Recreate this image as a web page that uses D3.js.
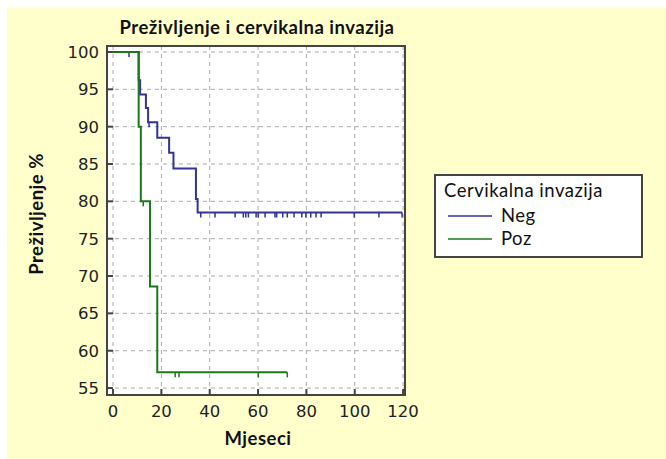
<!DOCTYPE html>
<html>
<head>
<meta charset="utf-8">
<script src="https://cdn.jsdelivr.net/npm/d3@7"></script>
<style>
  body { margin: 0; background: #fff; }
  svg { display: block; }
</style>
</head>
<body>
<div id="chart"></div>
<script>
// Kaplan-Meier steps (month, survival %)
var negEventT = [10.6, 11.2, 13.6, 14.5, 18.3, 23.2, 25.0, 34.3, 35.0];
var negEventS = [96.2, 94.3, 92.5, 90.6, 88.5, 86.5, 84.4, 80.3, 78.5];
var negCensor = [6.6, 14.9, 36.3, 42.2, 50.5, 53.9, 54.9, 56.0, 59.2, 60.1, 62.9, 67.0, 67.7,
                 70.2, 72.1, 74.9, 78.1, 79.8, 81.8, 84.0, 86.1, 99.8, 110.0, 119.6];

var pozEventT = [10.6, 11.5, 15.3, 18.3];
var pozEventS = [90.0, 80.0, 68.6, 57.1];
var pozCensor = [12.5, 25.7, 27.3, 60.1, 72.1];

var xTicks = [0, 20, 40, 60, 80, 100, 120];
var yTicks = [55, 60, 65, 70, 75, 80, 85, 90, 95, 100];
var groups = ["Neg", "Poz"];

var width = 666, height = 459;
var plotL = 107, plotR = 405, plotT = 46, plotB = 395;

var svg = d3.select("#chart").append("svg")
    .attr("width", width)
    .attr("height", height);

// yellow background
svg.append("rect")
    .attr("x", 7).attr("y", 8)
    .attr("width", width - 7).attr("height", height - 8)
    .attr("fill", "#ffffcc");

var x = d3.scaleLinear().domain([-2.5, 120.8]).range([plotL, plotR]);
var y = d3.scaleLinear().domain([54.07, 100.8]).range([plotB, plotT]);

svg.append("rect")
    .attr("x", plotL).attr("y", plotT)
    .attr("width", plotR - plotL).attr("height", plotB - plotT)
    .attr("fill", "#fff");

// grid
svg.append("g").selectAll("line").data(xTicks).enter().append("line")
    .attr("x1", d => x(d)).attr("x2", d => x(d))
    .attr("y1", plotT).attr("y2", plotB)
    .attr("stroke", "#a8a8a8").attr("stroke-dasharray", "4,4");
svg.append("g").selectAll("line").data(yTicks).enter().append("line")
    .attr("y1", d => y(d)).attr("y2", d => y(d))
    .attr("x1", plotL).attr("x2", plotR)
    .attr("stroke", "#a8a8a8").attr("stroke-dasharray", "4,4");

function stepData(ts, ss, end) {
  var pts = [[0, 100]];
  ts.forEach((t, i) => pts.push([t, ss[i]]));
  pts.push([end, ss[ss.length - 1]]);
  return pts;
}
function survAt(ts, ss, t) {
  var s = 100;
  ts.forEach((e, i) => { if (e <= t) s = ss[i]; });
  return s;
}

var line = d3.line()
    .x(d => x(d[0])).y(d => y(d[1]))
    .curve(d3.curveStepAfter);

function drawGroup(ts, ss, cens, color) {
  var end = d3.max(cens);
  var g = svg.append("g");
  g.append("path")
      .attr("d", line(stepData(ts, ss, end)))
      .attr("fill", "none")
      .attr("stroke", color)
      .attr("stroke-width", 2);
  g.selectAll("line").data(cens).enter().append("line")
      .attr("x1", d => x(d)).attr("x2", d => x(d))
      .attr("y1", d => y(survAt(ts, ss, d)))
      .attr("y2", d => y(survAt(ts, ss, d)) + 5)
      .attr("stroke", color)
      .attr("stroke-width", 1.5);
}

var colors = { Neg: "#333399", Poz: "#1a7a1a" };
drawGroup(negEventT, negEventS, negCensor, colors.Neg);
drawGroup(pozEventT, pozEventS, pozCensor, colors.Poz);

// frame and inward ticks
svg.append("rect")
    .attr("x", plotL).attr("y", plotT)
    .attr("width", plotR - plotL).attr("height", plotB - plotT)
    .attr("fill", "none").attr("stroke", "#444").attr("stroke-width", 2);

svg.append("g").selectAll("line").data(xTicks).enter().append("line")
    .attr("x1", d => x(d)).attr("x2", d => x(d))
    .attr("y1", plotB).attr("y2", plotB - 6)
    .attr("stroke", "#444").attr("stroke-width", 2);
svg.append("g").selectAll("line").data(yTicks).enter().append("line")
    .attr("y1", d => y(d)).attr("y2", d => y(d))
    .attr("x1", plotL).attr("x2", plotL + 6)
    .attr("stroke", "#444").attr("stroke-width", 2);

// tick labels
svg.append("g").selectAll("text").data(xTicks).enter().append("text")
    .attr("x", d => x(d)).attr("y", 417)
    .attr("text-anchor", "middle")
    .attr("font-family", "DejaVu Sans").attr("font-size", 16.5)
    .attr("fill", "#222")
    .text(d => d);
svg.append("g").selectAll("text").data(yTicks).enter().append("text")
    .attr("x", 99).attr("y", d => y(d) + 6)
    .attr("text-anchor", "end")
    .attr("font-family", "DejaVu Sans").attr("font-size", 16.5)
    .attr("fill", "#222")
    .text(d => d);

// titles
function label(sel, bold) {
  return sel.attr("font-family", "Lato")
      .attr("font-weight", bold ? "bold" : "normal")
      .attr("font-size", 18.5)
      .attr("letter-spacing", 0.5)
      .attr("fill", "#111");
}
label(svg.append("text"), true)
    .attr("x", 257).attr("y", 34)
    .attr("text-anchor", "middle")
    .text("Preživljenje i cervikalna invazija");
label(svg.append("text"), true)
    .attr("x", 258).attr("y", 445)
    .attr("text-anchor", "middle")
    .text("Mjeseci");
label(svg.append("text"), true)
    .attr("transform", "translate(43,214) rotate(-90)")
    .attr("text-anchor", "middle")
    .text("Preživljenje %");

// legend
var legend = svg.append("g");
legend.append("rect")
    .attr("x", 435).attr("y", 175)
    .attr("width", 207).attr("height", 82)
    .attr("fill", "#fff").attr("stroke", "#444").attr("stroke-width", 2);
label(legend.append("text"), false)
    .attr("x", 444).attr("y", 197)
    .text("Cervikalna invazija");
groups.forEach(function (gname, i) {
  var ly = 216 + i * 23;
  legend.append("line")
      .attr("x1", 448).attr("x2", 492)
      .attr("y1", ly).attr("y2", ly)
      .attr("stroke", colors[gname]).attr("stroke-width", 1.5);
  label(legend.append("text"), false)
      .attr("x", 501).attr("y", ly + 6)
      .text(gname);
});
</script>
</body>
</html>
